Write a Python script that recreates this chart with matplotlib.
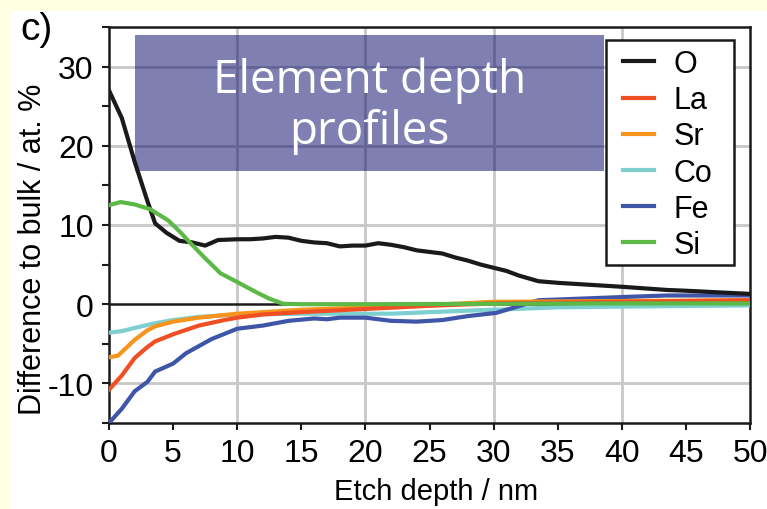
import matplotlib
matplotlib.use("Agg")
from matplotlib import pyplot as plt
from matplotlib import patches as patches

# etch depth (nm) and difference to bulk (at. %)
o_x = [0, 1, 2, 3, 3.6, 4.5, 5.5, 6.5, 7.5, 8.5, 10, 11, 12, 13, 14, 15, 16, 17, 18, 19, 20, 21, 22, 23,
       24, 25, 26, 27, 28, 29, 30, 31, 32, 33.5, 35, 37, 40, 43.5, 45, 50]
o_y = [27, 23.5, 18, 13, 10.2, 9, 8, 7.8, 7.4, 8.1, 8.2, 8.2, 8.3, 8.5, 8.4, 8.0, 7.8, 7.7, 7.3, 7.4, 7.4, 7.7, 7.5, 7.2,
       6.8, 6.6, 6.4, 5.9, 5.5, 5.0, 4.6, 4.2, 3.6, 2.9, 2.7, 2.5, 2.2, 1.8, 1.7, 1.3]

si_x = [0, 0.9, 2, 3.2, 4.6, 5.5, 6.3, 7.5, 8.7, 10, 11.5, 12.5, 13.6, 15, 20, 30, 40, 50]
si_y = [12.5, 12.9, 12.6, 12.0, 10.6, 9.2, 7.8, 5.8, 3.9, 2.8, 1.5, 0.7, 0.05, 0, 0, 0.05, 0.1, 0.1]

la_x = [0, 1, 2, 3, 3.6, 5, 7, 9, 10, 12, 15, 20, 25, 30, 40, 50]
la_y = [-10.8, -9, -6.8, -5.4, -4.7, -3.8, -2.7, -2.0, -1.7, -1.3, -1.0, -0.6, -0.2, 0.1, 0.3, 0.5]

sr_x = [0, 0.7, 2, 3, 3.6, 5, 7, 10, 15, 20, 25, 30, 40, 50]
sr_y = [-6.7, -6.5, -4.5, -3.3, -2.8, -2.2, -1.7, -1.2, -0.7, -0.4, -0.1, 0.3, 0.4, 0.5]

co_x = [0, 1, 2, 3.6, 5, 7, 10, 15, 20, 22, 26.6, 30, 35, 40, 50]
co_y = [-3.6, -3.4, -3.0, -2.4, -2.0, -1.6, -1.3, -1.2, -1.2, -1.2, -0.9, -0.7, -0.4, -0.3, -0.15]

fe_x = [0, 1, 2, 3, 3.6, 5, 6, 8, 10, 12, 14, 16, 17, 18, 20, 22, 24, 26, 28, 30.2, 33.5, 40, 43.5, 50]
fe_y = [-15, -13.2, -11, -9.8, -8.5, -7.5, -6.2, -4.4, -3.1, -2.7, -2.1, -1.8, -1.9, -1.7, -1.7, -2.1, -2.2, -2.0, -1.5, -1.1, 0.5, 0.9, 1.1, 1.1]

labels = ["O", "La", "Sr", "Co", "Fe", "Si"]
colors = {"O": "#1a1a1a", "La": "#f04e23", "Sr": "#f7941d", "Co": "#7dd0cf", "Fe": "#3f55a8", "Si": "#5cb946"}

plt.rcParams["font.family"] = ["Liberation Sans", "DejaVu Sans"]
plt.rcParams["axes.unicode_minus"] = False

fig = plt.figure(figsize=(7.67, 5.10), dpi=100, facecolor="#ffffe3")
fig.patches.append(patches.Rectangle((12/767, 0), 1, 1 - 12/510, transform=fig.transFigure,
                                     facecolor="white", edgecolor="none", zorder=-5))
ax = fig.add_axes([109/767, 86/510, 641/767, 396/510])
ax.set_facecolor("white")

lines = {}
lines["Co"], = ax.plot(co_x, co_y, color=colors["Co"], lw=3, zorder=3)
lines["Fe"], = ax.plot(fe_x, fe_y, color=colors["Fe"], lw=3, zorder=3)
lines["Sr"], = ax.plot(sr_x, sr_y, color=colors["Sr"], lw=3, zorder=3)
lines["La"], = ax.plot(la_x, la_y, color=colors["La"], lw=3, zorder=3)
lines["O"], = ax.plot(o_x, o_y, color=colors["O"], lw=3, zorder=3)
lines["Si"], = ax.plot(si_x, si_y, color=colors["Si"], lw=3, zorder=4)

ax.axhline(0, color="#1a1a1a", lw=1.8, zorder=2)

ax.set_xlim(0, 50)
ax.set_ylim(-15, 35)
ax.set_xticks(range(0, 51, 5))
ax.set_yticks([-10, 0, 10, 20, 30])
ax.set_yticks([-15, -5, 5, 15, 25, 35], minor=True)
ax.tick_params(axis="both", which="both", direction="out", width=1.5, color="#1a1a1a")
ax.tick_params(axis="both", which="major", length=5, labelsize=23, pad=6)
ax.tick_params(axis="y", which="minor", length=5)
for x in [10, 20, 30, 40]:
    ax.axvline(x, color="#c8c8c8", lw=2, zorder=1)
for y in [-10, 10, 20, 30]:
    ax.axhline(y, color="#c8c8c8", lw=2, zorder=1)
for s in ax.spines.values():
    s.set_linewidth(1.8)
    s.set_color("#1a1a1a")

ax.set_xlabel("Etch depth / nm", fontsize=21)
ax.set_ylabel("Difference to bulk / at. %", fontsize=22)
ax.xaxis.set_label_coords((436 - 109) / 641, (424 - 478) / 396)
ax.yaxis.set_label_coords((48 - 109) / 641, (424 - 249) / 396)

ax.add_patch(patches.Rectangle((2, 16.8), 36.6, 17.2, facecolor="#000066", alpha=0.5,
                               edgecolor="none", zorder=2))
ax.text(20.3, 25.1, "Element depth\nprofiles", color="white", fontsize=33, family="Open Sans",
        ha="center", va="center", linespacing=1.15, zorder=5)

# legend box drawn separately so its padding matches the original
ax.add_patch(patches.Rectangle(((606 - 109) / 641, (424 - 266) / 396), 128 / 641, 225 / 396,
                               transform=ax.transAxes, facecolor="white", edgecolor="#1a1a1a",
                               linewidth=1.8, zorder=6))
leg = ax.legend([lines[k] for k in labels], labels, loc="upper left",
                bbox_to_anchor=((614 - 109) / 641, (424 - 41) / 396), bbox_transform=ax.transAxes,
                borderaxespad=0, fontsize=22, frameon=False,
                handlelength=1.0, handletextpad=0.65, labelspacing=0.2, borderpad=0.3)
leg.set_zorder(7)

fig.text(20/767, 1 - 12/510, "c)", fontsize=28, ha="left", va="top")

fig.savefig("out.png", dpi=100, facecolor=fig.get_facecolor())
